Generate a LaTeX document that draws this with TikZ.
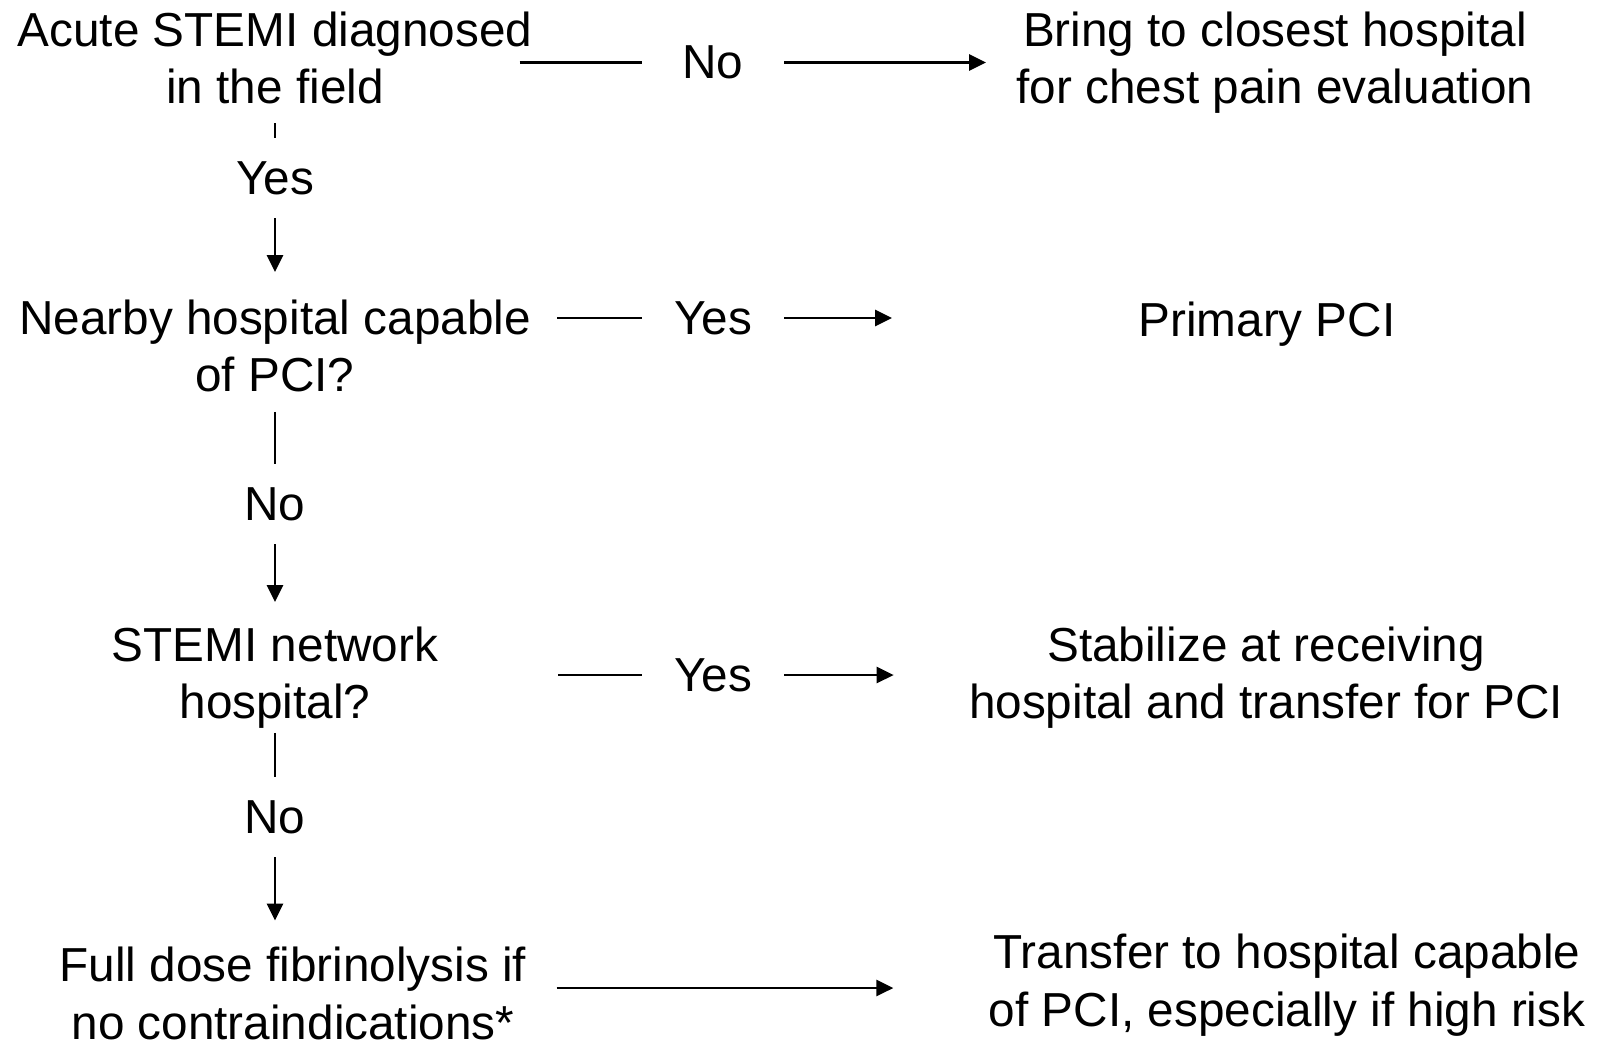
\documentclass[tikz,border=0pt]{standalone}
\usepackage{fontspec}
\setmainfont{Liberation Sans}
\usetikzlibrary{arrows.meta}
\tikzstyle{boxtext}=[align=center,inner sep=0pt,text depth=0pt,font=\fontsize{23.85}{28.75}\selectfont]
\tikzstyle{hlabel}=[inner sep=0pt,minimum width=71pt,font=\fontsize{23.85}{28.75}\selectfont]
\tikzstyle{vlabel}=[inner sep=0pt,minimum height=40pt,font=\fontsize{23.85}{28.75}\selectfont]
\tikzstyle{edgeline}=[line width=1.3pt]
\tikzstyle{edgearrow}=[line width=1.3pt,-{Triangle[length=8.5pt,width=8pt]}]

\begin{document}
\begin{tikzpicture}[x=0.5pt,y=-0.5pt]
    \useasboundingbox (0,0) rectangle (1598,1045);
    % left column
    \node[boxtext] (acute)   at (275,57.5)  {Acute STEMI diagnosed\\in the field};
    \node[boxtext] (nearby)  at (275,345.5) {Nearby hospital capable\\of PCI?};
    \node[boxtext] (network) at (275,672.5) {STEMI network\\hospital?};
    \node[boxtext] (fibrin)  at (293,993)   {Full dose fibrinolysis if\\no contraindications*};
    % right column
    \node[boxtext] (bring)     at (1275,57.5)  {Bring to closest hospital\\for chest pain evaluation};
    \node[boxtext] (primary)   at (1267,319)   {Primary PCI};
    \node[boxtext] (stabilize) at (1266,672.5) {Stabilize at receiving\\hospital and transfer for PCI};
    \node[boxtext] (transfer)  at (1287,980)   {Transfer to hospital capable\\of PCI, especially if high risk};
    % answers
    \node[hlabel] (no1)  at (713,62.5) {No};
    \node[hlabel] (yes2) at (713,318)  {Yes};
    \node[hlabel] (yes3) at (713,675)  {Yes};
    \node[vlabel] (yes1) at (275,178)  {Yes};
    \node[vlabel] (no2)  at (275,504)  {No};
    \node[vlabel] (no3)  at (275,817)  {No};

    % down the left side
    \draw[edgeline,shorten <=9.75pt] (acute.south) -- (yes1.north);
    \draw[edgearrow,shorten >=13.5pt] (yes1.south) -- (nearby.north);
    \draw[edgeline,shorten <=10pt] (nearby.south) -- (no2.north);
    \draw[edgearrow,shorten >=12pt] (no2.south) -- (network.north);
    \draw[edgeline,shorten <=7pt] (network.south) -- (no3.north);
    \draw[edgearrow,shorten >=13pt] (no3.south) -- (no3.south |- fibrin.north);

    % across
    \draw[edgeline,shorten <=-6.5pt] (acute.east |- no1.west) -- (no1.west);
    \draw[edgearrow,shorten >=15pt] (no1.east) -- (no1.east -| bring.west);
    \draw[edgeline,shorten <=13pt] (nearby.east |- yes2.west) -- (yes2.west);
    \draw[edgearrow,shorten >=123pt] (yes2.east) -- (yes2.east -| primary.west);
    \draw[edgeline,shorten <=60pt] (network.east |- yes3.west) -- (yes3.west);
    \draw[edgearrow,shorten >=37.5pt] (yes3.east) -- (yes3.east -| stabilize.west);
    \draw[edgearrow,shorten <=15pt,shorten >=47.5pt] ([yshift=2.5pt]fibrin.east) -- ([yshift=2.5pt]fibrin.east -| transfer.west);
\end{tikzpicture}
\end{document}
